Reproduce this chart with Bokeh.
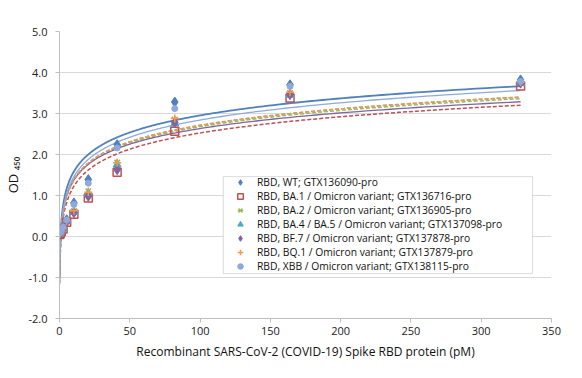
import numpy as np
from bokeh.plotting import figure
from bokeh.models import (Range1d, FixedTicker, NumeralTickFormatter, Legend, LegendItem,
                          BoxAnnotation)
from bokeh.embed import file_html
from bokeh.resources import INLINE

# ---------------- data ----------------
conc = [0.16, 0.32, 0.64, 1.28, 2.56, 5.125, 10.25, 20.5, 41, 82, 164, 328]

names = [
    "RBD, WT; GTX136090-pro",
    "RBD, BA.1 / Omicron variant; GTX136716-pro",
    "RBD, BA.2 / Omicron variant; GTX136905-pro",
    "RBD, BA.4 / BA.5 / Omicron variant; GTX137098-pro",
    "RBD, BF.7 / Omicron variant; GTX137878-pro",
    "RBD, BQ.1 / Omicron variant; GTX137879-pro",
    "RBD, XBB / Omicron variant; GTX138115-pro",
]

od_wt   = [0.08, 0.10, 0.13, 0.17, 0.24, 0.41, 0.82, 1.39, 2.24, 3.28, 3.70, 3.82]
od_ba1  = [0.05, 0.07, 0.09, 0.12, 0.18, 0.35, 0.54, 0.94, 1.57, 2.57, 3.38, 3.67]
od_ba2  = [0.07, 0.09, 0.11, 0.14, 0.20, 0.37, 0.62, 1.10, 1.80, 2.85, 3.50, 3.75]
od_ba4  = [0.07, 0.09, 0.11, 0.14, 0.20, 0.37, 0.60, 1.05, 1.75, 2.75, 3.45, 3.74]
od_bf7  = [0.06, 0.08, 0.10, 0.13, 0.19, 0.36, 0.58, 0.98, 1.63, 2.78, 3.46, 3.74]
od_bq1  = [0.07, 0.09, 0.11, 0.14, 0.21, 0.38, 0.63, 1.08, 1.80, 2.88, 3.52, 3.76]
od_xbb  = [0.08, 0.10, 0.12, 0.16, 0.23, 0.40, 0.78, 1.30, 2.16, 3.12, 3.66, 3.78]

# logarithmic trendline coefficients: y = a*ln(x) + b
trend_a = [0.600, 0.570, 0.575, 0.580, 0.550, 0.580, 0.606]
trend_b = [0.190, -0.100, 0.030, 0.040, 0.100, 0.040, 0.050]

colors = ["#4F81BD", "#C0504D", "#9BBB59", "#4BACC6", "#8064A2", "#F79646", "#8FA9DA"]
trend_dash = ["solid", "4 2", "4 2", "4 2", "solid", "4 2", "solid"]
trend_width = [1.8, 1.5, 1.5, 1.5, 1.3, 1.5, 1.3]

x_ticks = [0, 50, 100, 150, 200, 250, 300, 350]
y_ticks = [-2, -1, 0, 1, 2, 3, 4, 5]

FONT = "Open Sans"

p = figure(width=566, height=362, output_backend="svg", toolbar_location=None,
           x_range=Range1d(0, 350), y_range=Range1d(-2, 5),
           frame_width=492, frame_height=287,
           min_border_left=59, min_border_right=15, min_border_top=31, min_border_bottom=44)
p.outline_line_color = None
p.background_fill_color = "white"
p.border_fill_color = "white"

# axes
for ax in (p.xaxis[0], p.yaxis[0]):
    ax.axis_line_color = "#BFBFBF"
    ax.major_tick_line_color = "#BFBFBF"
    ax.minor_tick_line_color = None
    ax.major_tick_in = 0
    ax.major_tick_out = 4
    ax.major_label_text_font = FONT
    ax.major_label_text_font_size = "11px"
    ax.major_label_text_color = "#222222"
p.xaxis.ticker = FixedTicker(ticks=x_ticks)
p.yaxis.ticker = FixedTicker(ticks=y_ticks)
p.yaxis.formatter = NumeralTickFormatter(format="0.0")
p.xaxis.major_label_standoff = 4
p.yaxis.major_label_standoff = 8
p.xaxis.axis_label = "Recombinant SARS-CoV-2 (COVID-19) Spike RBD protein (pM)"
p.xaxis.axis_label_text_font = FONT
p.xaxis.axis_label_text_font_size = "12px"
p.xaxis.axis_label_text_font_style = "normal"
p.xaxis.axis_label_text_color = "#111111"
p.xaxis.axis_label_standoff = 5

p.yaxis.axis_label = "OD \u2084\u2085\u2080"
p.yaxis.axis_label_text_font = FONT
p.yaxis.axis_label_text_font_size = "13px"
p.yaxis.axis_label_text_font_style = "normal"
p.yaxis.axis_label_text_color = "#111111"
p.yaxis.axis_label_standoff = 3

p.xgrid.grid_line_color = None
p.ygrid.grid_line_color = "#D9D9D9"
p.ygrid.grid_line_width = 1

# trendlines
xs_fit = np.logspace(np.log10(min(conc)), np.log10(max(conc)), 300)
for a, b, c, d, w in zip(trend_a, trend_b, colors, trend_dash, trend_width):
    p.line(xs_fit, a * np.log(xs_fit) + b, line_color=c, line_width=w, line_dash=d)

# markers
items = []
r = p.scatter(conc, od_wt, marker="diamond", size=10, fill_color=colors[0], line_color=colors[0])
items.append(LegendItem(label=names[0], renderers=[r]))
r = p.scatter(conc, od_ba1, marker="square", size=8, fill_color=None, line_color=colors[1], line_width=1.5)
items.append(LegendItem(label=names[1], renderers=[r]))
r1 = p.scatter(conc, od_ba2, marker="x", size=8, line_color=colors[2], line_width=1.5)
r2 = p.scatter(conc, od_ba2, marker="dash", angle=np.pi / 2, size=8, line_color=colors[2], line_width=1.5)
items.append(LegendItem(label=names[2], renderers=[r1, r2]))
r = p.scatter(conc, od_ba4, marker="triangle", size=8, fill_color=colors[3], line_color=colors[3])
items.append(LegendItem(label=names[3], renderers=[r]))
r = p.scatter(conc, od_bf7, marker="diamond", size=10, fill_color=colors[4], line_color=colors[4])
items.append(LegendItem(label=names[4], renderers=[r]))
r = p.scatter(conc, od_bq1, marker="cross", size=8, line_color=colors[5], line_width=1.5)
items.append(LegendItem(label=names[5], renderers=[r]))
r = p.scatter(conc, od_xbb, marker="circle", size=6, fill_color=colors[6], line_color=colors[6])
items.append(LegendItem(label=names[6], renderers=[r]))

# legend frame
p.add_layout(BoxAnnotation(left=116.5, right=336.5, top=1.46, bottom=-0.905,
                           fill_color="white", fill_alpha=1.0,
                           line_color="#8C8C8C", line_width=1, level="annotation"))

legend = Legend(items=items, location=(164, 45), padding=0, spacing=0,
                glyph_width=34, glyph_height=14, label_height=14, label_standoff=0,
                label_text_font=FONT, label_text_font_size="10.3px", label_text_color="#111111",
                border_line_color=None, background_fill_alpha=0)
p.add_layout(legend)

open("out.html", "w").write(file_html(p, INLINE))
